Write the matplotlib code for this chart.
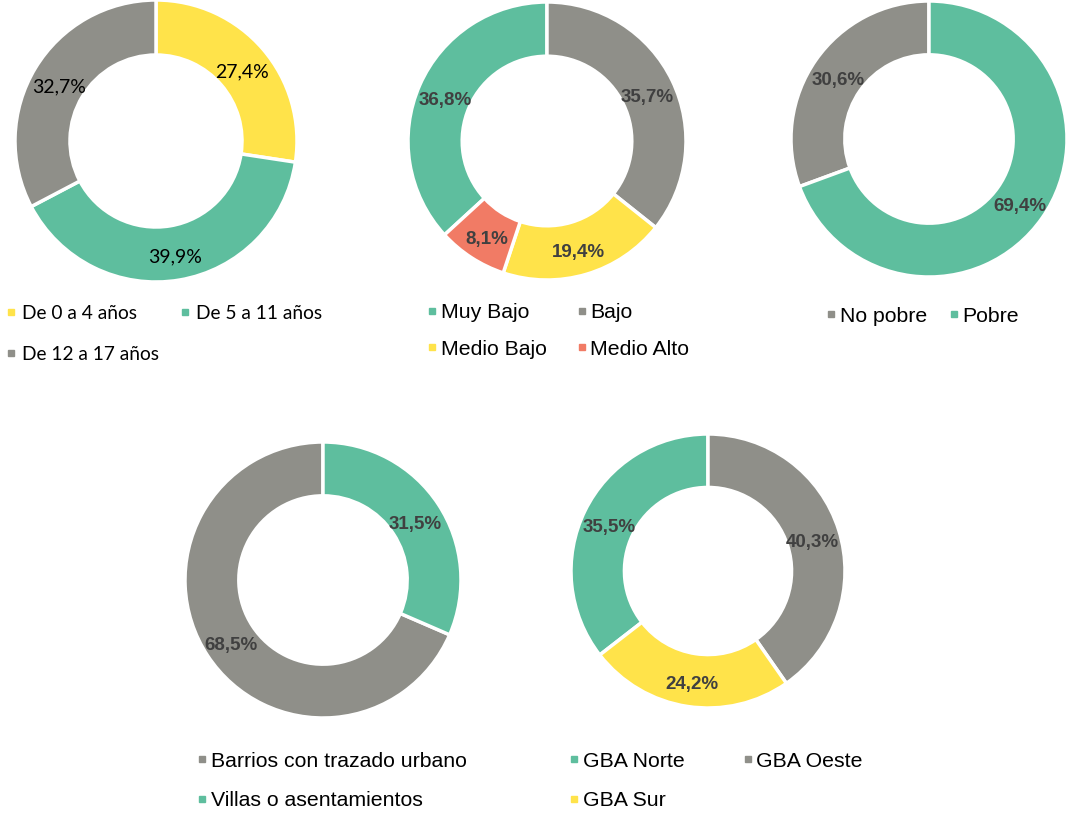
import matplotlib
matplotlib.use("Agg")
import matplotlib.pyplot as plt
from matplotlib.lines import Line2D

# colours
YELLOW = "#FFE34A"
GREEN = "#5EBE9E"
GRAY = "#8F8F89"
SALMON = "#F17B65"

# chart 1: age groups
edad_labels = ["De 0 a 4 años", "De 5 a 11 años", "De 12 a 17 años"]
edad_values = [27.4, 39.9, 32.7]
edad_colors = [YELLOW, GREEN, GRAY]

# chart 2: socioeconomic level
nivel_labels = ["Muy Bajo", "Bajo", "Medio Bajo", "Medio Alto"]
nivel_values = [36.8, 35.7, 19.4, 8.1]
nivel_colors = [GREEN, GRAY, YELLOW, SALMON]

# chart 3: poverty
pobreza_labels = ["No pobre", "Pobre"]
pobreza_values = [30.6, 69.4]
pobreza_colors = [GRAY, GREEN]

# chart 4: urban layout
barrio_labels = ["Barrios con trazado urbano", "Villas o asentamientos"]
barrio_values = [68.5, 31.5]
barrio_colors = [GRAY, GREEN]

# chart 5: region
region_labels = ["GBA Norte", "GBA Oeste", "GBA Sur"]
region_values = [35.5, 40.3, 24.2]
region_colors = [GREEN, GRAY, YELLOW]

W, H = 1068, 814
fig = plt.figure(figsize=(W / 100, H / 100), dpi=100)

CALIBRI = ["Lato", "DejaVu Sans"]
ARIAL = ["Liberation Sans", "DejaVu Sans"]


def pct(p):
    return f"{p:.1f}".replace(".", ",") + "%"


def donut(cx, cy, r, values, colors, start, bold=True, family=ARIAL):
    ax = fig.add_axes([(cx - r) / W, 1 - (cy + r) / H, 2 * r / W, 2 * r / H])
    if bold:
        tp = dict(fontsize=13.5, fontweight="bold", color="#404040", family=family)
    else:
        tp = dict(fontsize=14, color="black", family=family)
    wedges, _, autotexts = ax.pie(values, colors=colors, startangle=start,
                                  counterclock=False, radius=1, autopct=pct,
                                  pctdistance=0.8, textprops=tp,
                                  wedgeprops=dict(width=0.39, edgecolor="white",
                                                  linewidth=2.5))
    for w in wedges:
        w.set_clip_on(False)
    for t in autotexts:
        t.set_va("center_baseline")
        x, y = t.get_position()
        t.set_position((x, y - 0.02))
    ax.set_xlim(-1, 1)
    ax.set_ylim(-1, 1)
    ax.set_aspect("equal")
    ax.axis("off")
    return ax


def legend(labels, colors, x, y, ncol, family, size, rowsp, colsp, pad=0.1):
    n = len(labels)
    nrows = -(-n // ncol)
    # legend fills column by column; reorder so entries read row by row
    order = [r * ncol + c for c in range(ncol) for r in range(nrows) if r * ncol + c < n]
    handles = [Line2D([], [], ls="", marker="s", ms=5, color=colors[i]) for i in order]
    fig.legend(handles, [labels[i] for i in order], loc="center left",
               bbox_to_anchor=(x / W, 1 - y / H), ncol=ncol, frameon=False,
               prop=dict(family=family, size=size), borderpad=0, borderaxespad=0,
               handlelength=0.6, handletextpad=pad, labelspacing=rowsp,
               columnspacing=colsp)


donut(156, 141, 141, edad_values, edad_colors, 90, bold=False, family=CALIBRI)
donut(547, 141, 139, nivel_values, nivel_colors, 90 + 3.6 * nivel_values[0])
donut(929, 139, 138, pobreza_values, pobreza_colors, 90 + 3.6 * pobreza_values[0])
donut(323, 580, 138, barrio_values, barrio_colors, 90 + 3.6 * barrio_values[0])
donut(708, 571, 137, region_values, region_colors, 90 + 3.6 * region_values[0])

legend(edad_labels, edad_colors, 5, 334, 2, CALIBRI, 13.8, 1.27, 1.04, pad=0.3)
legend(nivel_labels, nivel_colors, 426, 331, 2, ARIAL, 15.3, 0.84, 1.35)
legend(pobreza_labels, pobreza_colors, 825, 316, 2, ARIAL, 15.3, 0.84, 0.97)
legend(barrio_labels, barrio_colors, 196, 781, 1, ARIAL, 15.3, 0.97, 1.0)
legend(region_labels, region_colors, 568, 781, 2, ARIAL, 15.3, 0.97, 2.66)

fig.savefig("out.png", dpi=100, facecolor="white")
